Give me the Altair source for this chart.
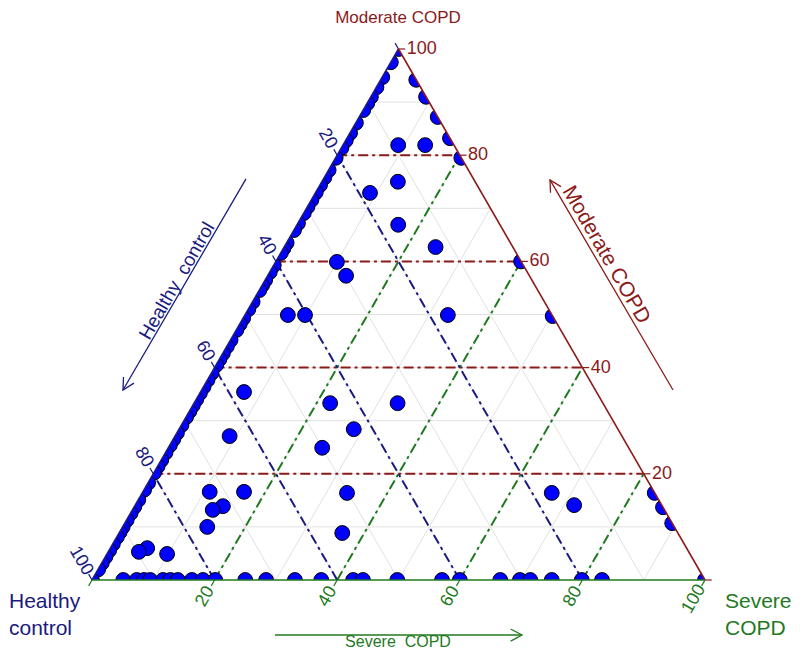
import altair as alt
import numpy as np
import pandas as pd

# ---------------- data: ternary percentages (healthy = 100 - severe - moderate) -------------
# points lying on the Healthy/Moderate edge (severe = 0): moderate %
left_edge_moderate = [100, 97.5, 94.7, 92.8, 91.0, 89.8, 88.5, 86.1, 84.2, 82.8, 81.4, 79.5,
                      77.2, 75.8, 74.4, 73.0, 71.6, 70.3, 69.1, 67.2, 65.9, 63.5, 62.5, 61.6,
                      59.3, 58.0, 56.5, 55.5, 54.6, 52.4, 51.0, 49.3, 48.2, 47.1, 45.2, 44.0,
                      42.7, 41.6, 40.5, 39.0, 37.7, 36.4, 35.2, 34.0, 32.9, 31.8, 30.7, 29.2,
                      27.7, 26.5, 25.4, 24.0, 22.6, 21.4, 20.2, 18.3, 17.0, 15.1, 13.8, 12.6,
                      11.3, 10.0, 9.0, 8.1, 6.8, 5.6, 4.4, 3.2, 2.0, 0.0]
# points lying on the Healthy/Severe edge (moderate = 0): severe %
bottom_edge_severe = [5.1, 7.3, 8.5, 9.5, 11.6, 12.8, 14.0, 16.3, 18.1, 20.1, 25.0, 28.4, 33.1,
                      37.4, 42.6, 44.2, 49.8, 57.1, 60.0, 66.6, 69.8, 71.5, 75.0, 79.9, 83.2, 100]
# points lying on the Moderate/Severe edge (healthy = 0): moderate %
right_edge_moderate = [94.2, 91.0, 87.2, 83.2, 79.5, 60.0, 49.7, 16.4, 13.7, 10.7]
# interior points
inner_severe = [9.0, 13.4, 12.4, 8.9, 16.5, 24.7, 10.0, 12.8, 7.0, 9.8, 33.1, 7.1, 8.9, 22.2,
                33.2, 28.5, 25.1, 10.9, 16.5, 14.4, 13.1, 13.8, 6.0, 5.0, 9.8, 33.4, 36.4,
                66.8, 71.6]
inner_moderate = [81.9, 81.9, 75.0, 72.9, 66.9, 62.7, 59.9, 57.3, 49.9, 49.9, 49.9, 35.4, 27.1,
                  33.3, 33.3, 28.4, 24.9, 16.6, 16.6, 13.9, 13.2, 10.0, 6.0, 5.3, 4.9, 16.4,
                  8.85, 16.4, 14.1]

grid_levels = [10, 20, 30, 40, 50, 60, 70, 80, 90]
dash_levels = [20, 40, 60, 80]
tick_levels = [0, 20, 40, 60, 80, 100]
label_levels = [20, 40, 60, 80, 100]

RED = "#8B1A1A"
NAVY = "#1A1A80"
GREEN = "#1F7A1F"
GRID = "#E2E2E2"
FONT = "Liberation Sans"
NBSP = "\u00a0"

# ---------------- geometry ----------------
W, H = 613, 531
SQ = np.sqrt(3) / 2
YMAX = 100 * SQ
U = W / 100.0  # px per data unit

xs = alt.Scale(domain=[0, 100], nice=False, zero=False)
ys = alt.Scale(domain=[0, YMAX], nice=False, zero=False)
X = alt.X("X:Q", scale=xs, axis=None)
Y = alt.Y("Y:Q", scale=ys, axis=None)

calc = dict(X="datum.s + datum.m / 2", Y="datum.m * 0.8660254037844386")

# points table
pts = pd.DataFrame({
    "s": [0.0] * len(left_edge_moderate) + bottom_edge_severe
         + [100 - m for m in right_edge_moderate] + inner_severe,
    "m": left_edge_moderate + [0.0] * len(bottom_edge_severe)
         + right_edge_moderate + inner_moderate,
})


# grid / dash-dot lines in ternary coordinates
def family_rows(levels, tag):
    rows = []
    for k in levels:
        if tag == "mod":
            ends = [(0, k), (100 - k, k)]
        elif tag == "sev":
            ends = [(k, 0), (k, 100 - k)]
        else:  # healthy
            ends = [(100 - k, 0), (0, 100 - k)]
        for o, (s, m) in enumerate(ends):
            rows.append({"fam": tag, "id": f"{tag}{k}", "o": o, "s": s, "m": m})
    return rows


grid_df = pd.DataFrame(family_rows(grid_levels, "mod") + family_rows(grid_levels, "sev")
                       + family_rows(grid_levels, "hea"))
dash_df = pd.DataFrame(family_rows(dash_levels, "mod") + family_rows(dash_levels, "sev")
                       + family_rows(dash_levels, "hea"))

fam_color = alt.Scale(domain=["mod", "sev", "hea"], range=[RED, GREEN, NAVY])

grid = alt.Chart(grid_df).transform_calculate(**calc).mark_line(
    color=GRID, strokeWidth=1).encode(x=X, y=Y, detail="id:N", order="o:Q")

dash = alt.Chart(dash_df).transform_calculate(**calc).mark_line(
    strokeWidth=2, strokeDash=[10, 4, 3, 4]).encode(
    x=X, y=Y, detail="id:N", order="o:Q",
    color=alt.Color("fam:N", scale=fam_color, legend=None))

points = alt.Chart(pts).transform_calculate(**calc).mark_circle(
    size=220, fill="#0000FF", stroke="#000000", strokeWidth=1, opacity=1,
    fillOpacity=1, clip=True).encode(x=X, y=Y)

# white mask above the two slanted edges (clips points to the triangle)
mask_df = pd.DataFrame({"X": [0, 50, 100], "Y": [0, YMAX, 0], "top": [YMAX] * 3})
mask = alt.Chart(mask_df).mark_area(color="white", opacity=1, clip=True).encode(
    x=X, y=Y, y2=alt.Y2("top:Q"))

# triangle edges
edge_df = pd.DataFrame([
    {"id": "L", "o": 0, "X": 0, "Y": 0, "c": NAVY}, {"id": "L", "o": 1, "X": 50, "Y": YMAX, "c": NAVY},
    {"id": "R", "o": 0, "X": 50, "Y": YMAX, "c": RED}, {"id": "R", "o": 1, "X": 100, "Y": 0, "c": RED},
    {"id": "B", "o": 0, "X": 0, "Y": 0, "c": GREEN}, {"id": "B", "o": 1, "X": 100, "Y": 0, "c": GREEN},
])
edges = alt.Chart(edge_df).mark_line(strokeWidth=1.6).encode(
    x=X, y=Y, detail="id:N", order="o:Q", color=alt.Color("c:N", scale=None))

# ticks and tick labels
tick_len = 1.1
lab_off = 3.1
TFS = 18
tick_rows, lab_rows_c, lab_rows_l = [], [], []
for k in tick_levels:
    x0, y0 = 100 - k / 2, k * SQ
    tick_rows += [{"id": f"m{k}", "o": 0, "X": x0, "Y": y0, "c": RED},
                  {"id": f"m{k}", "o": 1, "X": x0 + tick_len, "Y": y0, "c": RED}]
    x0, y0 = k, 0
    tick_rows += [{"id": f"s{k}", "o": 0, "X": x0, "Y": y0, "c": GREEN},
                  {"id": f"s{k}", "o": 1, "X": x0 - 0.5 * tick_len, "Y": y0 - SQ * tick_len, "c": GREEN}]
    x0, y0 = (100 - k) / 2, (100 - k) * SQ
    tick_rows += [{"id": f"h{k}", "o": 0, "X": x0, "Y": y0, "c": NAVY},
                  {"id": f"h{k}", "o": 1, "X": x0 - 0.5 * tick_len, "Y": y0 + SQ * tick_len, "c": NAVY}]
for k in label_levels:
    lab_rows_l.append({"X": 100 - k / 2 + 1.35, "Y": k * SQ, "t": str(k), "ang": 0, "col": RED, "fs": TFS})
    off = lab_off + (0.5 if k == 100 else 0)
    lab_rows_c.append({"X": k - 0.5 * off, "Y": -SQ * off, "t": str(k), "ang": 300, "col": GREEN, "fs": TFS})
    lab_rows_c.append({"X": (100 - k) / 2 - 0.5 * off, "Y": (100 - k) * SQ + SQ * off, "t": str(k),
                       "ang": 60, "col": NAVY, "fs": TFS})
ticks = alt.Chart(pd.DataFrame(tick_rows)).mark_line(strokeWidth=1.2).encode(
    x=X, y=Y, detail="id:N", order="o:Q", color=alt.Color("c:N", scale=None))


def px(x, y):
    """page pixel -> data coordinates (annotation layout)"""
    return (x - 92) / U, (580 - y) / U


def arrow_rows(name, p_tail, p_head, color, head=2.1, spread=28):
    (x0, y0), (x1, y1) = px(*p_tail), px(*p_head)
    dx, dy = x0 - x1, y0 - y1
    L = np.hypot(dx, dy)
    ux, uy = dx / L, dy / L
    rows = [{"id": name + "s", "o": 0, "X": x0, "Y": y0, "c": color},
            {"id": name + "s", "o": 1, "X": x1, "Y": y1, "c": color}]
    a = np.radians(spread)
    w = []
    for sgn in (1, -1):
        ca, sa = np.cos(sgn * a), np.sin(sgn * a)
        w.append((x1 + head * (ux * ca - uy * sa), y1 + head * (ux * sa + uy * ca)))
    rows += [{"id": name + "h", "o": 0, "X": w[0][0], "Y": w[0][1], "c": color},
             {"id": name + "h", "o": 1, "X": x1, "Y": y1, "c": color},
             {"id": name + "h", "o": 2, "X": w[1][0], "Y": w[1][1], "c": color}]
    return rows


arr_df = pd.DataFrame(
    arrow_rows("hc", (246, 179), (123, 390), NAVY)
    + arrow_rows("mc", (673, 390), (550, 180), RED)
    + arrow_rows("sc", (275, 635), (522, 635), GREEN))
arrows = alt.Chart(arr_df).mark_line(strokeWidth=1.3).encode(
    x=X, y=Y, detail="id:N", order="o:Q", color=alt.Color("c:N", scale=None))

# titles
tc = []
xx, yy = px(398, 18)
tc.append({"X": xx, "Y": yy, "t": "Moderate COPD", "ang": 0, "col": RED, "fs": 17})
xx, yy = px(177, 281)
tc.append({"X": xx, "Y": yy, "t": "Healthy" + NBSP + " control", "ang": 300, "col": NAVY, "fs": 19})
xx, yy = px(606, 255)
tc.append({"X": xx, "Y": yy, "t": "Moderate COPD", "ang": 60, "col": RED, "fs": 21})
xx, yy = px(398, 642)
tc.append({"X": xx, "Y": yy, "t": "Severe" + NBSP + " COPD", "ang": 0, "col": GREEN, "fs": 16})

tl = []
for t, (xp, yp), col in [("Healthy", (9, 602), NAVY), ("control", (9, 629), NAVY),
                         ("Severe", (725, 602), GREEN), ("COPD", (725, 629), GREEN)]:
    xx, yy = px(xp, yp)
    tl.append({"X": xx, "Y": yy, "t": t, "ang": 0, "col": col, "fs": 21})


def text_layer(rows, align):
    return alt.Chart(pd.DataFrame(rows)).mark_text(
        align=align, baseline="middle", font=FONT).encode(
        x=X, y=Y, text="t:N",
        angle=alt.Angle("ang:Q", scale=None),
        color=alt.Color("col:N", scale=None),
        size=alt.Size("fs:Q", scale=None))


chart = alt.layer(
    grid, dash, points, mask, edges, ticks, arrows,
    text_layer(lab_rows_c + tc, "center"),
    text_layer(lab_rows_l + tl, "left"),
).properties(
    width=W, height=H,
    autosize=alt.AutoSizeParams(type="none"),
    padding={"left": 84, "top": 41, "right": 87, "bottom": 73},
).configure_view(stroke=None)

chart.save("out.html", embed_options={"renderer": "svg", "actions": False})
